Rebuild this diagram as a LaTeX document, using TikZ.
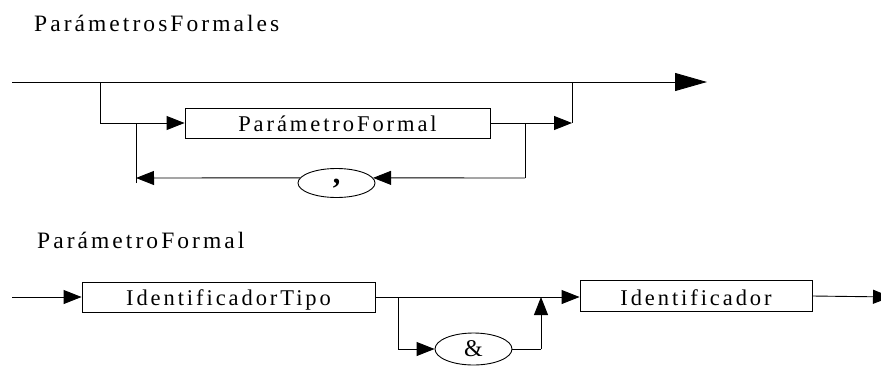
\documentclass[tikz,border=0pt]{standalone}
\usepackage{fontspec}
\setmainfont{Liberation Serif}[LetterSpace=13]
\usetikzlibrary{arrows.meta,shapes.geometric,calc}
\begin{document}
\begin{tikzpicture}[x=1pt,y=-1pt,
  line/.style={draw=black,line width=0.9pt},
  arr/.style={-{Triangle[length=18pt,width=14pt]}},
  bigarr/.style={-{Triangle[length=32pt,width=18pt]}},
  box/.style={draw,rectangle,line width=0.9pt,inner sep=0pt,text height=23.5pt,text depth=6.5pt,font=\fontsize{22.5}{26}\selectfont},
  oval/.style={draw,ellipse,line width=0.9pt,inner sep=0pt,minimum width=77pt},
  title/.style={anchor=base west,inner sep=0pt,font=\fontsize{23.5}{27}\selectfont}]
\useasboundingbox (0,0) rectangle (881,365);
\clip (0,0) rectangle (881,365);
% top diagram
\node[title] (t1) at (34,31) {ParámetrosFormales};
\coordinate (s1) at (12,82);
\coordinate (e1) at (707,82);
\coordinate (j1) at (100,82);
\coordinate (j1b) at (100,123);
\node[box,minimum width=305pt] (pf) at (337.5,123) {ParámetroFormal};
\coordinate (j2) at (572,123);
\coordinate (j2t) at (572,82);
\coordinate (l1) at (525,123);
\coordinate (l1b) at (525,178);
\node[oval,minimum height=29pt,text height=0pt,text depth=0pt,font=\bfseries\fontsize{30}{32}\selectfont] (comma) at (336.5,183) {,};
\coordinate (l2) at (136,178);
\coordinate (l2t) at (136,123);
\coordinate (l2b) at (136,183);
\draw[line,bigarr] (s1) -- (e1);
\draw[line] (j1) -- (j1b);
\draw[line,arr] (j1b) -- (pf.west);
\draw[line,arr] (pf.east) -- (j2);
\draw[line] (j2) -- (j2t);
\draw[line] (l1) -- (l1b);
\draw[line,arr] (l1b) -- (comma.8);
\draw[line,arr] (comma.172) -- (l2);
\draw[line] (l2b) -- (l2t);
% bottom diagram
\node[title] (t2) at (37,248) {ParámetroFormal};
\coordinate (s2) at (12,297);
\node[box,minimum width=293pt] (idt) at (228.5,297) {IdentificadorTipo};
\node[box,minimum width=232pt,text height=25pt] (id) at (696,296) {Identificador};
\coordinate (b1) at (398,297);
\coordinate (b1b) at (398,349);
\node[oval,minimum height=32pt,font=\fontsize{24}{27}\selectfont] (amp) at (473.5,349) {\&};
\coordinate (b2) at (541,349);
\coordinate (b2t) at (541,297);
\coordinate (e2) at (891,297);
\draw[line,arr] (s2) -- (idt.west);
\draw[line,arr] (idt.east) -- (idt.east -| id.west);
\draw[line] (b1) -- (b1b);
\draw[line,arr] (b1b) -- (amp.west);
\draw[line] (amp.east) -- (b2);
\draw[line,arr] (b2) -- (b2t);
\draw[line,arr] (id.east) -- (e2);
\end{tikzpicture}
\end{document}
